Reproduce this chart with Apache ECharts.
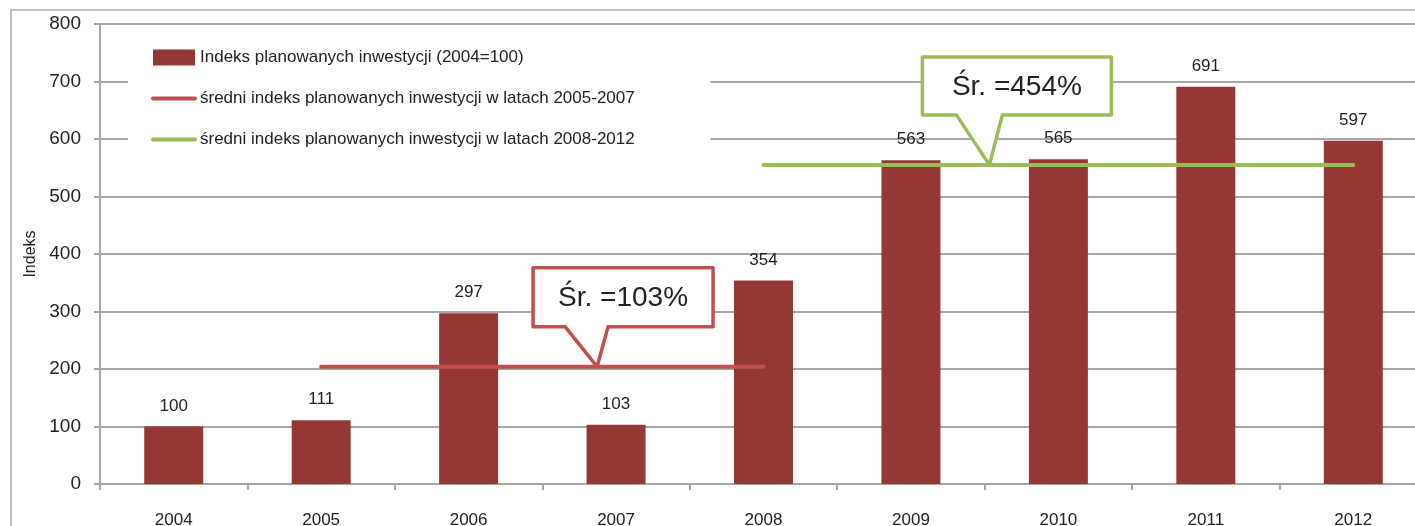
<!DOCTYPE html>
<html>
<head>
<meta charset="utf-8">
<script src="https://cdn.jsdelivr.net/npm/echarts@6/dist/echarts.min.js"></script>
<style>
  html, body { margin: 0; padding: 0; background: #fff; }
  #chart { width: 1415px; height: 526px; }
</style>
</head>
<body>
<div id="chart"></div>
<script>
// data
const years = ['2004', '2005', '2006', '2007', '2008', '2009', '2010', '2011', '2012'];
const indexValues = [100, 111, 297, 103, 354, 563, 565, 691, 597];
const avg0507 = [null, 204, 204, 204, 204, null, null, null, null];
const avg0812 = [null, null, null, null, 555, 555, 555, 555, 555];
const yTicks = [0, 100, 200, 300, 400, 500, 600, 700, 800];
const callouts = [
  { text: 'Śr. =103%', year: '2007', value: 204, color: '#C0504D', dx: -19, box: [-64, 116, -99, -40], base: [-32, 11] },
  { text: 'Śr. =454%', year: '2010', value: 555, color: '#9BBB59', dx: -69, box: [-67, 122, -108, -50], base: [-33, 13] }
];

const FONT = '"Liberation Sans", Arial, sans-serif';
const names = [
  'Indeks planowanych inwestycji (2004=100)',
  'średni indeks planowanych inwestycji w latach 2005-2007',
  'średni indeks planowanych inwestycji w latach 2008-2012'
];

const chart = echarts.init(document.getElementById('chart'));
chart.setOption({
  animation: false,
  textStyle: { fontFamily: FONT },
  grid: { left: 100, top: 24, width: 1327, height: 460, outerBoundsMode: 'none', containLabel: false },
  legend: {
    orient: 'vertical', left: 128, top: 36,
    padding: [13, 76, 12, 23],
    backgroundColor: '#fff',
    itemWidth: 42, itemHeight: 16, itemGap: 24,
    textStyle: { fontFamily: FONT, fontSize: 17, color: '#222' },
    data: [
      { name: names[0], icon: 'rect' },
      { name: names[1], itemStyle: { opacity: 0 }, lineStyle: { width: 4, cap: 'round', color: '#C0504D' } },
      { name: names[2], itemStyle: { opacity: 0 }, lineStyle: { width: 4, cap: 'round', color: '#9BBB59' } }
    ]
  },
  xAxis: {
    type: 'category', data: years,
    axisLine: { lineStyle: { color: '#a6a6a6', width: 2 } },
    axisTick: { show: true, length: 6, lineStyle: { color: '#a6a6a6', width: 2 } },
    axisLabel: { margin: 28, fontSize: 17, color: '#222', fontFamily: FONT }
  },
  yAxis: {
    type: 'value', min: 0, max: 800, interval: 100,
    name: 'Indeks', nameLocation: 'middle', nameGap: 58, nameRotate: 90,
    nameTextStyle: { fontSize: 16, color: '#222', fontFamily: FONT },
    axisLine: { show: true, lineStyle: { color: '#a6a6a6', width: 2 } },
    axisTick: { show: true, length: 6, lineStyle: { color: '#a6a6a6', width: 2 } },
    splitLine: { lineStyle: { color: '#a6a6a6', width: 2 } },
    axisLabel: {
      margin: 19, fontSize: 19, color: '#222', fontFamily: FONT,
      formatter: v => yTicks.includes(v) ? String(v) : ''
    }
  },
  series: [
    {
      name: names[0], type: 'bar', data: indexValues, barWidth: '40%',
      itemStyle: { color: '#953735' },
      label: { show: true, position: 'top', distance: 12, fontSize: 17, color: '#222', fontFamily: FONT }
    },
    {
      name: names[1], type: 'line', data: avg0507, symbol: 'none', z: 5,
      lineStyle: { color: '#C0504D', width: 4, cap: 'round' }, itemStyle: { color: '#C0504D' }
    },
    {
      name: names[2], type: 'line', data: avg0812, symbol: 'none', z: 5,
      lineStyle: { color: '#9BBB59', width: 4, cap: 'round' }, itemStyle: { color: '#9BBB59' }
    }
  ]
});

// callouts anchored on the average lines via the chart's own scales
const graphics = [{
  type: 'rect', silent: true, z: -10,
  shape: { x: 11, y: 10, width: 1500, height: 700 },
  style: { fill: null, stroke: '#bfbfbf', lineWidth: 2 }
}];
callouts.forEach(c => {
  const p = chart.convertToPixel({ gridIndex: 0 }, [c.year, c.value]);
  const tx = p[0] + c.dx, ty = p[1];
  const [l, r, t, b] = c.box;
  graphics.push({
    type: 'polygon', z: 100,
    shape: { points: [
      [tx + l, ty + t], [tx + r, ty + t], [tx + r, ty + b],
      [tx + c.base[1], ty + b], [tx, ty], [tx + c.base[0], ty + b], [tx + l, ty + b]
    ] },
    style: { fill: '#fff', stroke: c.color, lineWidth: 3.5, lineJoin: 'round' }
  });
  graphics.push({
    type: 'text', z: 101,
    x: tx + (l + r) / 2, y: ty + (t + b) / 2 + 1,
    style: { text: c.text, fill: '#222', fontSize: 28, fontFamily: FONT, align: 'center', verticalAlign: 'middle' }
  });
});
chart.setOption({ graphic: graphics });
</script>
</body>
</html>
